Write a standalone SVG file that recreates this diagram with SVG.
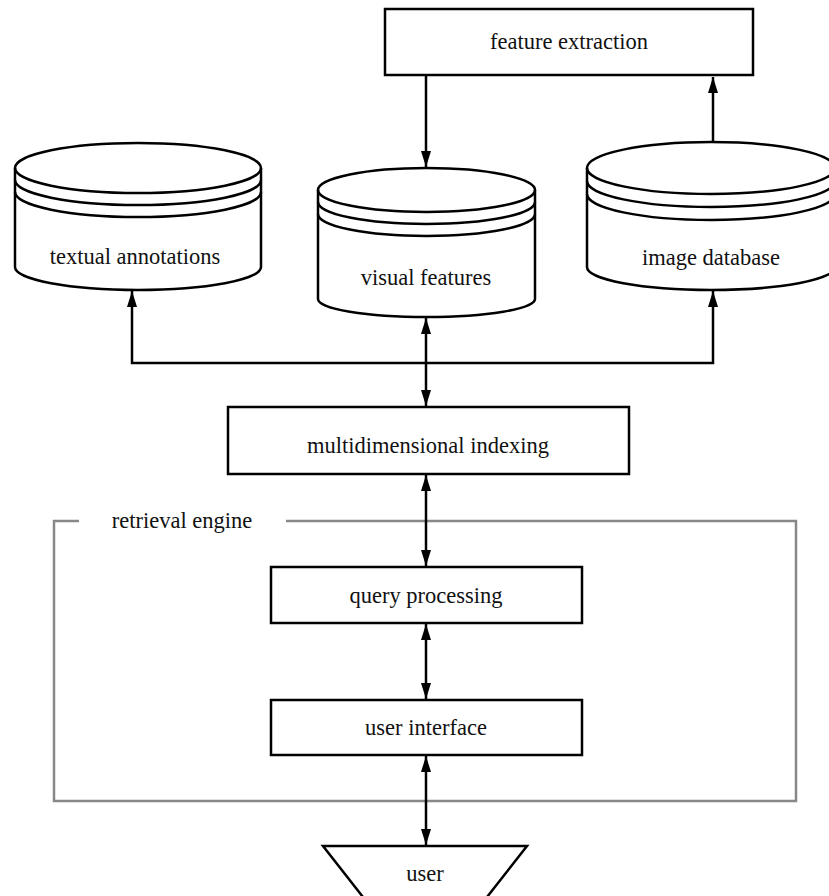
<svg xmlns="http://www.w3.org/2000/svg" width="829" height="896" viewBox="0 0 829 896">
<style>
.box{fill:#fff;stroke:#000;stroke-width:2.5}
.cyl{fill:#fff;stroke:#000;stroke-width:2.5;stroke-linejoin:round}
.ln{fill:none;stroke:#000;stroke-width:2.5}
.conn{fill:none;stroke:#000;stroke-width:2.5}
.frame{fill:none;stroke:#888;stroke-width:2.5}
text{font-family:"Liberation Serif","Times New Roman",serif;font-size:22.5px;fill:#111;text-anchor:middle}
</style>
<defs>
<marker id="ah" markerUnits="userSpaceOnUse" markerWidth="16" markerHeight="10" refX="16" refY="5" orient="auto-start-reverse">
<path d="M0,0 L16,5 L0,10 z" fill="#000"/>
</marker>
</defs>
<rect width="829" height="896" fill="#fff"/>

<g id="retrieval-engine">
<path class="frame" d="M79,521 L54,521 L54,801 L796,801 L796,521 L286,521"/>
<text x="182" y="528">retrieval engine</text>
</g>

<g id="connectors">
<path class="conn" d="M426,76 L426,167" marker-end="url(#ah)"/>
<path class="conn" d="M713,141 L713,77" marker-end="url(#ah)"/>
<path class="conn" d="M132,291 L132,363 L713,363 L713,291" marker-start="url(#ah)" marker-end="url(#ah)"/>
<path class="conn" d="M426,318 L426,406" marker-start="url(#ah)" marker-end="url(#ah)"/>
<path class="conn" d="M426,475 L426,566" marker-start="url(#ah)" marker-end="url(#ah)"/>
<path class="conn" d="M426,624 L426,699" marker-start="url(#ah)" marker-end="url(#ah)"/>
<path class="conn" d="M426,756 L426,845" marker-start="url(#ah)" marker-end="url(#ah)"/>
</g>

<g id="feature-extraction">
<rect class="box" x="385" y="9" width="368" height="66"/>
<text x="569" y="49">feature extraction</text>
</g>

<g id="textual-annotations">
<path class="cyl" d="M15,168 A123,25 0 0 1 261,168 L261,267 A123,23 0 0 1 15,267 Z"/>
<path class="ln" d="M15,168 A123,25 0 0 0 261,168 M15,180 A123,25 0 0 0 261,180 M15,192 A123,25 0 0 0 261,192"/>
<text x="135" y="264">textual annotations</text>
</g>

<g id="visual-features">
<path class="cyl" d="M318,190 A108.5,22 0 0 1 535,190 L535,299 A108.5,18 0 0 1 318,299 Z"/>
<path class="ln" d="M318,190 A108.5,22 0 0 0 535,190 M318,202 A108.5,22 0 0 0 535,202 M318,214 A108.5,22 0 0 0 535,214"/>
<text x="426" y="285">visual features</text>
</g>

<g id="image-database">
<path class="cyl" d="M587,168 A124,26 0 0 1 835,168 L835,267 A124,23 0 0 1 587,267 Z"/>
<path class="ln" d="M587,168 A124,26 0 0 0 835,168 M587,181 A124,26 0 0 0 835,181 M587,194 A124,26 0 0 0 835,194"/>
<text x="711" y="265">image database</text>
</g>

<g id="multidimensional-indexing">
<rect class="box" x="228" y="407" width="401" height="67"/>
<text x="428" y="453">multidimensional indexing</text>
</g>

<g id="query-processing">
<rect class="box" x="271" y="567" width="311" height="56"/>
<text x="426" y="603">query processing</text>
</g>

<g id="user-interface">
<rect class="box" x="271" y="700" width="311" height="55"/>
<text x="426" y="735">user interface</text>
</g>

<g id="user">
<path class="box" d="M323,846 L527,846 L480,906 L370,906 Z"/>
<text x="425" y="881">user</text>
</g>
</svg>
